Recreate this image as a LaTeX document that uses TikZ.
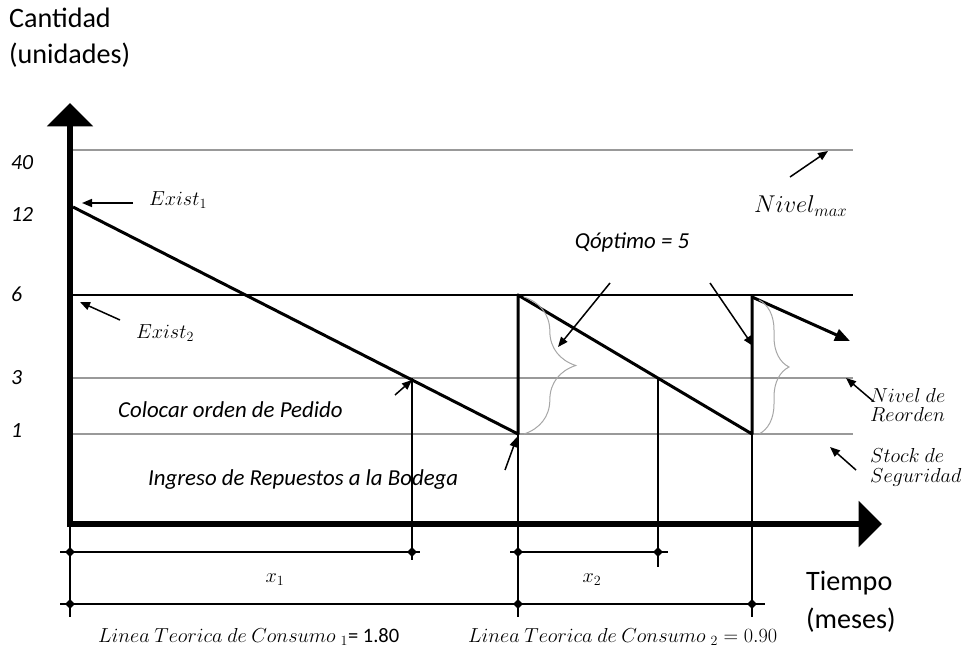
\documentclass[tikz,border=0pt]{standalone}
\usepackage{fontspec}
\setmainfont{Carlito}
\usetikzlibrary{arrows.meta, shapes.geometric, decorations.pathreplacing}

\begin{document}
\begin{tikzpicture}[
            x = 0.3mm, y = -0.3mm, % pixel grid, y going down
            > = {Triangle[length=3mm, width=2.4mm]}, % arrow head style
            font = \fontsize{19.5}{23}\selectfont,
            axis/.style = {line width=1.8mm, -{Triangle[length=7mm, width=13.5mm]}},
            level/.style = {line width=0.45mm, gray!80},
            saw/.style = {line width=0.9mm, line join=round},
            guide/.style = {line width=0.6mm},
            pointer/.style = {->, line width=0.45mm},
            dot/.style = {diamond, fill, inner sep=0pt, minimum size=3mm},
            title/.style = {anchor=west, font=\fontsize{24}{28}\selectfont},
            tick/.style = {anchor=west, font=\fontsize{18.5}{21}\selectfont\itshape},
            mlabel/.style = {anchor=west, font=\fontsize{17.5}{21}\selectfont},
            brc/.style = {decorate, decoration={brace, amplitude=#1}, line width=0.3mm, gray!70}
        ]

        \useasboundingbox (0,0) rectangle (974,653);

        % axis titles
        \node[title] (cant) at (5,18) {Cantidad};
        \node[title] (unid) at (5,55) {(unidades)};
        \node[title] (tiem) at (802,583) {Tiempo};
        \node[title] (mese) at (802,620) {(meses)};

        % levels
        \coordinate (o) at (70,524);
        \draw[level] (73,150) -- (853,150);
        \draw[line width=0.5mm] (70,295) -- (853,295);
        \draw[level] (70,378) -- (853,378);
        \draw[level] (70,434) -- (853,434);

        \node[tick] (t40) at (7,163) {40};
        \node[tick] (t12) at (7,214) {12};
        \node[tick] (t6) at (7,294) {6};
        \node[tick] (t3) at (7,378) {3};
        \node[tick] (t1) at (7,431) {1};

        % saw tooth
        \coordinate (s0) at (73,207);
        \coordinate (s1) at (518,434);
        \coordinate (s1t) at (518,295);
        \coordinate (s2) at (752,434);
        \coordinate (s2t) at (752,295);
        \coordinate (s3) at (850,341);
        \coordinate (r1) at (412,378);
        \coordinate (r2) at (658,378);

        \draw[saw] (s0) -- (s1) -- (s1t) -- (s2) -- (s2t);
        \draw[saw, -{Triangle[length=4.5mm, width=3.6mm]}] ([yshift=-0.6mm]s2t) -- (s3);

        % guide lines down to the time axis
        \draw[guide] (r1) -- (412,560);
        \draw[guide] (r2) -- (658,567);
        \draw[guide] (s1) -- (518,617);
        \draw[guide] (s2) -- (752,617);
        \draw[guide] (70,524) -- (70,617);

        % axes
        \draw[axis] (70,527) -- (70,103);
        \draw[axis] (67,524) -- (882,524);

        % braces for Q
        \draw[brc=15.5mm] (524,297) -- (524,434);
        \draw[brc=9mm] (759,300) -- (759,434);

        % dimension lines
        \draw[guide] (60,552) -- (420,552);
        \draw[guide] (510,552) -- (668,552);
        \draw[guide] (60,604) -- (765,604);
        \foreach \px/\py in {70/552, 412/552, 518/552, 658/552, 70/604, 518/604, 752/604}
            \node[dot] at (\px,\py) {};

        \node[font=\fontsize{17.5}{21}\selectfont] (x1) at (275,580) {$x_1$};
        \node[font=\fontsize{17.5}{21}\selectfont] (x2) at (592,580) {$x_2$};

        \node[mlabel] (lin1) at (94,637) {$Linea\ Teorica\ de\ Consumo\ _1$= 1.80};
        \node[mlabel] (lin2) at (464,637) {$Linea\ Teorica\ de\ Consumo\ _2=0.90$};

        % labels with pointers
        \node[mlabel] (ex1) at (145,200) {$Exist_1$};
        \node[mlabel] (ex2) at (132,333) {$Exist_2$};
        \node[mlabel, font=\fontsize{20}{24}\selectfont] (nmax) at (750,206) {$Nivel_{max}$};
        \node[mlabel, font=\fontsize{19}{22}\selectfont, align=left] (nreo) at (866,405) {$Nivel\ de$\\[-5pt]$Reorden$};
        \node[mlabel, font=\fontsize{19}{22}\selectfont, align=left] (ssec) at (866,467) {$Stock\ de$\\[-5pt]$Seguridad$};
        \node (qopt) at (632,242) {\itshape Qóptimo = 5};
        \node[anchor=west] (colo) at (114,410) {\itshape Colocar orden de Pedido};
        \node[anchor=west] (ingr) at (144,480) {\itshape Ingreso de Repuestos a la Bodega};

        \coordinate (e1a) at (133,203);
        \coordinate (e1b) at (82,203);
        \coordinate (e2a) at (120,320);
        \coordinate (e2b) at (80,302);
        \coordinate (nma) at (790,177);
        \coordinate (nmb) at (828,151);
        \coordinate (q1a) at (610,283);
        \coordinate (q1b) at (558,347);
        \coordinate (q2a) at (710,283);
        \coordinate (q2b) at (753,346);
        \coordinate (nra) at (873,401);
        \coordinate (nrb) at (846,378);
        \coordinate (ssa) at (856,470);
        \coordinate (ssb) at (830,447);
        \coordinate (coa) at (395,395);
        \coordinate (cob) at (412,380);
        \coordinate (ina) at (505,470);
        \coordinate (inb) at (517,437);

        \draw[pointer] (e1a) -- (e1b);
        \draw[pointer] (e2a) -- (e2b);
        \draw[pointer] (nma) -- (nmb);
        \draw[pointer] (q1a) -- (q1b);
        \draw[pointer] (q2a) -- (q2b);
        \draw[pointer] (nra) -- (nrb);
        \draw[pointer] (ssa) -- (ssb);
        \draw[pointer] (coa) -- (cob);
        \draw[pointer] (ina) -- (inb);

\end{tikzpicture}
\end{document}
